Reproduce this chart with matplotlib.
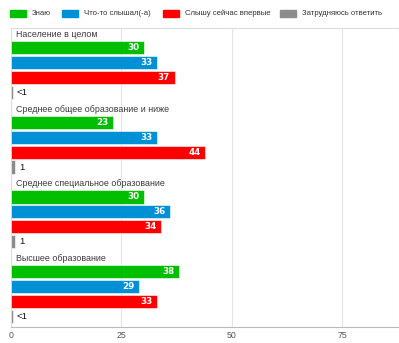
import matplotlib.pyplot as plt
from matplotlib.patches import Rectangle

plt.rcParams['font.family'] = ['Liberation Sans', 'DejaVu Sans']

groups = ["Население в целом", "Среднее общее образование и ниже",
          "Среднее специальное образование", "Высшее образование"]
series = ["Знаю", "Что-то слышал(-а)", "Слышу сейчас впервые", "Затрудняюсь ответить"]
colors = ["#00bf00", "#0090d6", "#ff0000", "#8c8c8c"]

know = [30, 23, 30, 38]
heard = [33, 33, 36, 29]
first_time = [37, 44, 34, 33]
unsure = [0.5, 1, 1, 0.5]
unsure_labels = ["<1", "1", "1", "<1"]

values = [know, heard, first_time, unsure]

W, H = 399, 343
fig = plt.figure(figsize=(W / 100, H / 100), dpi=100)
ax = fig.add_axes([11 / W, 1 - 327 / H, 1 - 11 / W, (327 - 28) / H])

slot = 5
for g, name in enumerate(groups):
    base = g * slot
    ax.text(1.1, base + 0.42, name, fontsize=6.4, color="#3a3a3a", va="center", ha="left")
    for s in range(4):
        y = base + 1.3 + s
        v = values[s][g]
        ax.barh(y, v, height=0.88, color=colors[s], edgecolor="white", linewidth=0.4, zorder=3)
        if s < 3:
            ax.text(v - 1.0, y, str(v), color="white", fontsize=6.3, fontweight="bold",
                    family="DejaVu Sans", ha="right", va="center", zorder=4)
        else:
            ax.text(v + 0.8, y, unsure_labels[g], color="#111111", fontsize=6.8,
                    ha="left", va="center", zorder=4)

ax.set_ylim(20, 0)
ax.set_xlim(0, 87.8)
ax.set_xticks([0, 25, 50, 75])
ax.set_yticks([])
ax.tick_params(axis="x", length=0, labelsize=6.3, labelcolor="#555555", pad=3)
ax.grid(axis="x", color="#e4e4e4", linewidth=0.8, zorder=0)
for side in ["top", "left", "right"]:
    ax.spines[side].set_color("#dddddd")
    ax.spines[side].set_linewidth(0.8)
ax.spines["bottom"].set_color("#bbbbbb")

# legend, laid out by hand in pixel units
legend_x = [10, 62, 163, 280]
for x0, c, label in zip(legend_x, colors, series):
    fig.patches.append(Rectangle((x0 / W, 1 - 17 / H), 16 / W, 7 / H, color=c,
                                 transform=fig.transFigure, figure=fig))
    fig.text((x0 + 22) / W, 1 - 13.5 / H, label, fontsize=5.6, color="#333333",
             va="center", ha="left")

fig.savefig("out.png", dpi=100)
